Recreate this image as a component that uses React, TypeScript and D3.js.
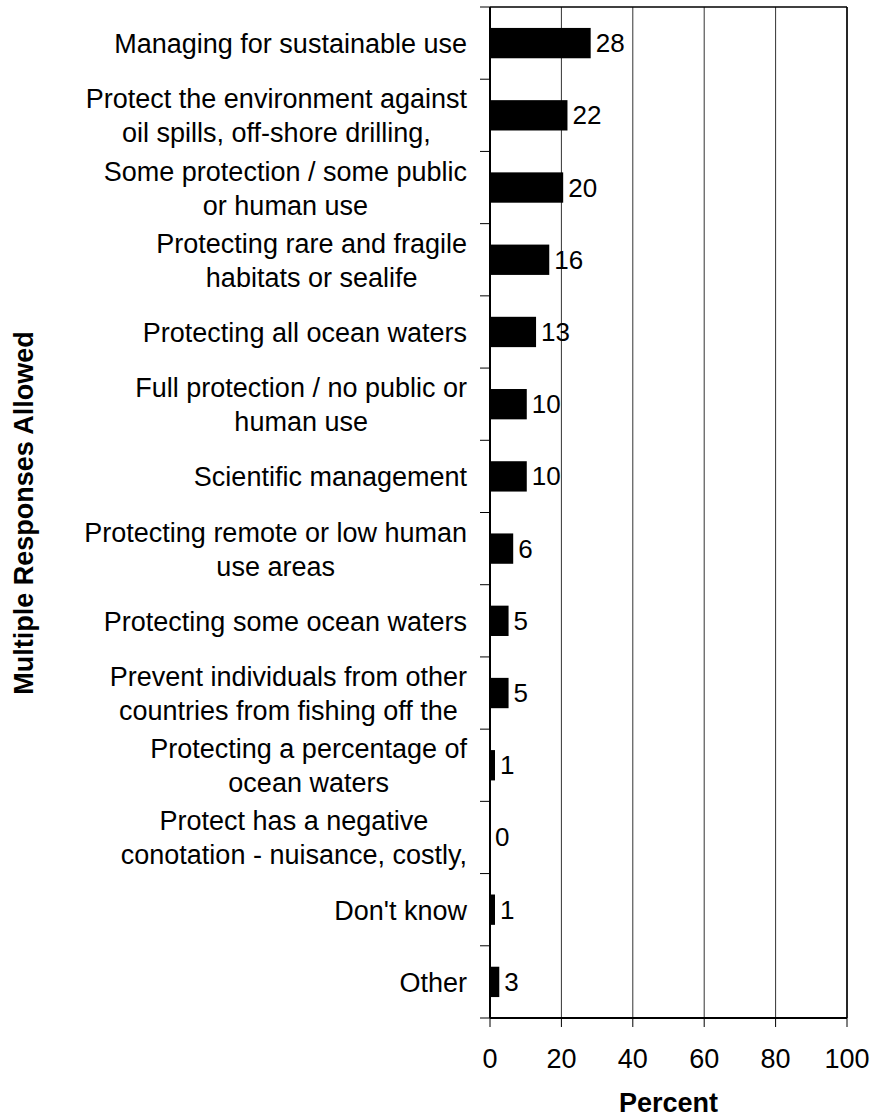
import React, { useEffect, useRef } from "react";
import * as d3 from "d3";

const categoryLines: string[][] = [
  ["Managing for sustainable use"],
  ["Protect the environment against", "oil spills, off-shore drilling,"],
  ["Some protection / some public", "or human use"],
  ["Protecting rare and fragile", "habitats or sealife"],
  ["Protecting all ocean waters"],
  ["Full protection / no public or", "human use"],
  ["Scientific management"],
  ["Protecting remote or low human", "use areas"],
  ["Protecting some ocean waters"],
  ["Prevent individuals from other", "countries from fishing off the"],
  ["Protecting a percentage of", "ocean waters"],
  ["Protect has a negative", "conotation - nuisance, costly,"],
  ["Don't know"],
  ["Other"],
];
const barValues = [28.2, 21.7, 20.5, 16.6, 12.9, 10.3, 10.3, 6.5, 5.2, 5.2, 1.4, 0, 1.4, 2.6];
const valueLabels = ["28", "22", "20", "16", "13", "10", "10", "6", "5", "5", "1", "0", "1", "3"];
const xTicks = [0, 20, 40, 60, 80, 100];
const xTitle = "Percent";
const yTitle = "Multiple Responses Allowed";

const W = 871;
const H = 1117;
const FONT = "'Liberation Sans', Arial, Helvetica, sans-serif";

export default function App() {
  const ref = useRef<SVGSVGElement | null>(null);

  useEffect(() => {
    const svg = d3.select(ref.current);
    svg.selectAll("*").remove();

    const left = 490, right = 847, top = 7, bottom = 1018;
    const x = d3.scaleLinear().domain([0, 100]).range([left, right]);
    const idx = categoryLines.map((_, i) => String(i));
    const y = d3.scaleBand().domain(idx).range([top, bottom]).padding(0);
    const bw = y.bandwidth();
    const barH = bw * 0.42;

    // gridlines
    svg.append("g").selectAll("line").data(xTicks.filter((t) => t > 0)).join("line")
      .attr("x1", (d) => x(d)).attr("x2", (d) => x(d))
      .attr("y1", top).attr("y2", bottom)
      .attr("stroke", "#333").attr("stroke-width", 1);

    // frame top & right
    svg.append("line").attr("x1", left).attr("x2", right).attr("y1", top).attr("y2", top)
      .attr("stroke", "#000").attr("stroke-width", 1.5);
    svg.append("line").attr("x1", right).attr("x2", right).attr("y1", top).attr("y2", bottom)
      .attr("stroke", "#000").attr("stroke-width", 1.5);

    // bars
    svg.append("g").selectAll("rect").data(barValues).join("rect")
      .attr("x", x(0))
      .attr("y", (_, i) => (y(String(i)) as number) + bw / 2 - barH / 2)
      .attr("width", (d) => x(d) - x(0))
      .attr("height", barH)
      .attr("fill", "#000");

    // value labels
    svg.append("g").selectAll("text").data(barValues).join("text")
      .attr("x", (d) => x(d) + 5)
      .attr("y", (_, i) => (y(String(i)) as number) + bw / 2 + 9)
      .attr("font-family", FONT).attr("font-size", 26).attr("fill", "#000")
      .text((_, i) => valueLabels[i]);

    // axes lines
    svg.append("line").attr("x1", left).attr("x2", right).attr("y1", bottom).attr("y2", bottom)
      .attr("stroke", "#000").attr("stroke-width", 2);
    svg.append("line").attr("x1", left).attr("x2", left).attr("y1", top).attr("y2", bottom)
      .attr("stroke", "#000").attr("stroke-width", 2);

    // y ticks at band boundaries
    const bounds = idx.map((d) => y(d) as number).concat([bottom]);
    svg.append("g").selectAll("line").data(bounds).join("line")
      .attr("x1", left - 10).attr("x2", left).attr("y1", (d) => d).attr("y2", (d) => d)
      .attr("stroke", "#000").attr("stroke-width", 1);

    // x ticks
    svg.append("g").selectAll("line").data(xTicks).join("line")
      .attr("x1", (d) => x(d)).attr("x2", (d) => x(d)).attr("y1", bottom).attr("y2", bottom + 9)
      .attr("stroke", "#000").attr("stroke-width", 1);
    svg.append("g").selectAll("text").data(xTicks).join("text")
      .attr("x", (d) => x(d)).attr("y", 1068)
      .attr("text-anchor", "middle")
      .attr("font-family", FONT).attr("font-size", 27).attr("fill", "#000")
      .text((d) => String(d));

    // category labels
    const labelRight = 467;
    const lineGap = 34;
    const gLab = svg.append("g");
    categoryLines.forEach((lines, i) => {
      const cy = (y(String(i)) as number) + bw / 2;
      const texts = lines.map((ln, k) =>
        gLab.append("text")
          .attr("font-family", FONT).attr("font-size", 27).attr("fill", "#000")
          .attr("text-anchor", "middle")
          .attr("y", cy + 10 + (k - (lines.length - 1) / 2) * lineGap)
          .text(ln)
      );
      const widths = texts.map((t) => (t.node() as SVGTextElement).getComputedTextLength());
      const maxW = Math.max(...widths);
      texts.forEach((t) => t.attr("x", labelRight - maxW / 2));
    });

    // titles
    svg.append("text").attr("x", (left + right) / 2).attr("y", 1112)
      .attr("text-anchor", "middle").attr("font-family", FONT).attr("font-size", 27)
      .attr("font-weight", "bold").text(xTitle);
    svg.append("text").attr("transform", `translate(33,513) rotate(-90)`)
      .attr("text-anchor", "middle").attr("font-family", FONT).attr("font-size", 27)
      .attr("font-weight", "bold").text(yTitle);
  }, []);

  return (
    <svg
      ref={ref}
      width={W}
      height={H}
      style={{ position: "absolute", left: 0, top: 0, background: "#fff" }}
    />
  );
}
